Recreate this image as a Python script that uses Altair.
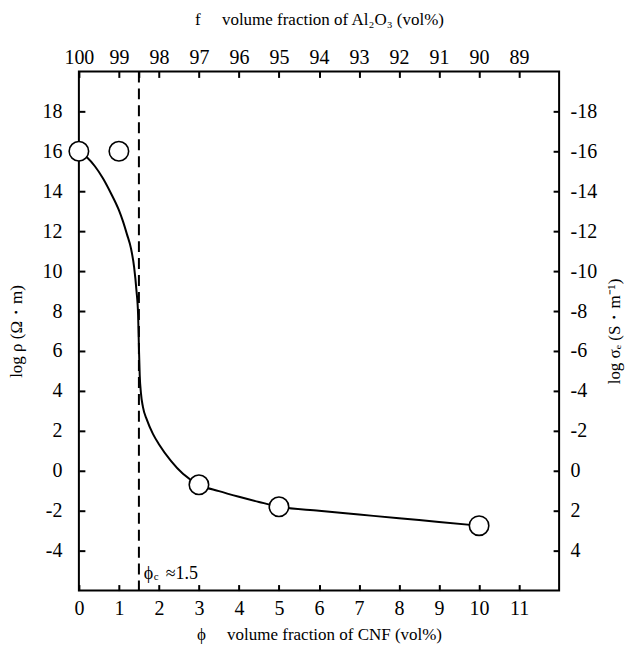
import altair as alt
import pandas as pd

# measured data points (phi vol% CNF, log rho)
phi = [0, 1, 3, 5, 10]
log_rho = [16, 16, -0.7, -1.8, -2.75]

# guide curve
curve_phi = [0.0, 0.2, 0.4, 0.6, 0.8, 1.0, 1.1, 1.2, 1.3, 1.38, 1.44, 1.48, 1.5,
             1.52, 1.55, 1.6, 1.7, 1.85, 2.0, 2.3, 2.6, 3.0, 3.5, 4.0, 4.5, 5.0,
             6.0, 7.0, 8.0, 9.0, 10.0]
curve_log_rho = [16.0, 15.7, 15.25, 14.65, 13.9, 13.05, 12.5, 11.85, 11.15, 10.2,
                 9.0, 7.8, 6.2, 4.8, 3.9, 3.2, 2.55, 1.85, 1.33, 0.5, -0.15, -0.7,
                 -1.02, -1.3, -1.56, -1.8, -2.0, -2.19, -2.38, -2.56, -2.75]

# percolation threshold
phi_c = [1.5]
annot_x = [1.62]
annot_y = [-5.15]
annot_sym = ["ϕ"]
annot_sub = ["c"]
annot_val = ["≈1.5"]

x_ticks = list(range(0, 12))
top_ticks = [0, 1, 1.5, 2, 3, 4, 5, 6, 7, 8, 9, 10, 11]
y_ticks = [-4, -2, 0, 2, 4, 6, 8, 10, 12, 14, 16, 18]

FONT = "Liberation Serif"
NB = "\u00a0"
LBL = 20
TTL = 17

pts = pd.DataFrame({"phi": phi, "log_rho": log_rho})
curve = pd.DataFrame({"phi": curve_phi, "log_rho": curve_log_rho})
crit = pd.DataFrame({"phi": phi_c})
annot = pd.DataFrame({"x": annot_x, "y": annot_y, "a": annot_sym,
                      "b": annot_sub, "c": annot_val})

xs = alt.Scale(domain=[0, 12], nice=False, zero=False)
ys = alt.Scale(domain=[-6, 20], nice=False, zero=False)

common = dict(
    grid=False, domain=False, tickSize=6, tickWidth=2, tickColor="black",
    offset=-6, labelFont=FONT, labelFontSize=LBL, labelColor="black",
    titleFont=FONT, titleFontSize=TTL, titleFontWeight="normal", titleColor="black",
    labelFlush=False, labelOverlap=False,
)

x_bottom = alt.X("phi:Q", scale=xs, axis=alt.Axis(
    orient="bottom", values=x_ticks, labelPadding=8, titlePadding=8,
    title="ϕ" + NB * 5 + "volume fraction of CNF (vol%)", **common))
y_left = alt.Y("log_rho:Q", scale=ys, axis=alt.Axis(
    orient="left", values=y_ticks, labelPadding=17, titlePadding=16,
    labelExpr="datum.value < 0 ? '-' + abs(datum.value) : '' + datum.value",
    title="log ρ (Ω・m)", **common))

line = alt.Chart(curve).mark_line(color="black", strokeWidth=2, interpolate="monotone").encode(
    x=x_bottom, y=y_left)

rule = alt.Chart(crit).mark_rule(color="black", strokeWidth=2, strokeDash=[11, 6]).encode(
    x=alt.X("phi:Q", scale=xs))

points = alt.Chart(pts).mark_point(
    shape="circle", size=380, filled=True, fill="white", stroke="black",
    strokeWidth=1.6, opacity=1).encode(
    x=alt.X("phi:Q", scale=xs), y=alt.Y("log_rho:Q", scale=ys))

tbase = alt.Chart(annot).encode(x=alt.X("x:Q", scale=xs), y=alt.Y("y:Q", scale=ys))
t1 = tbase.mark_text(align="left", baseline="middle", font=FONT, fontSize=18,
                     color="black").encode(text="a:N")
t2 = tbase.mark_text(align="left", baseline="middle", font=FONT, fontSize=11,
                     color="black", dx=10, dy=3).encode(text="b:N")
t3 = tbase.mark_text(align="left", baseline="middle", font=FONT, fontSize=18,
                     color="black", dx=22).encode(text="c:N")

main = alt.layer(line, rule, points, t1, t2, t3)

secondary = alt.Chart(pts).mark_point(opacity=0).encode(
    x=alt.X("phi:Q", scale=xs, axis=alt.Axis(
        orient="top", values=top_ticks, labelPadding=4, titlePadding=19,
        labelExpr="datum.value == 1.5 ? '' : '' + (100 - datum.value)",
        title="f" + NB * 5 + "volume fraction of Al₂O₃ (vol%)", **common)),
    y=alt.Y("log_rho:Q", scale=ys, axis=alt.Axis(
        orient="right", values=y_ticks, labelPadding=11, titlePadding=27,
        titleAngle=270,
        labelExpr="datum.value == 0 ? '0' : (datum.value > 0 ? '-' + datum.value : '' + abs(datum.value))",
        title="log σₑ (S・m⁻¹)", **common)),
)

chart = alt.layer(main, secondary).resolve_scale(x="independent", y="independent").properties(
    width=481, height=520, background="white",
    padding={"left": 0, "top": 2, "right": 5, "bottom": 5},
).configure_view(stroke="black", strokeWidth=2)

chart.save("out.html", embed_options={"renderer": "svg", "actions": False})
